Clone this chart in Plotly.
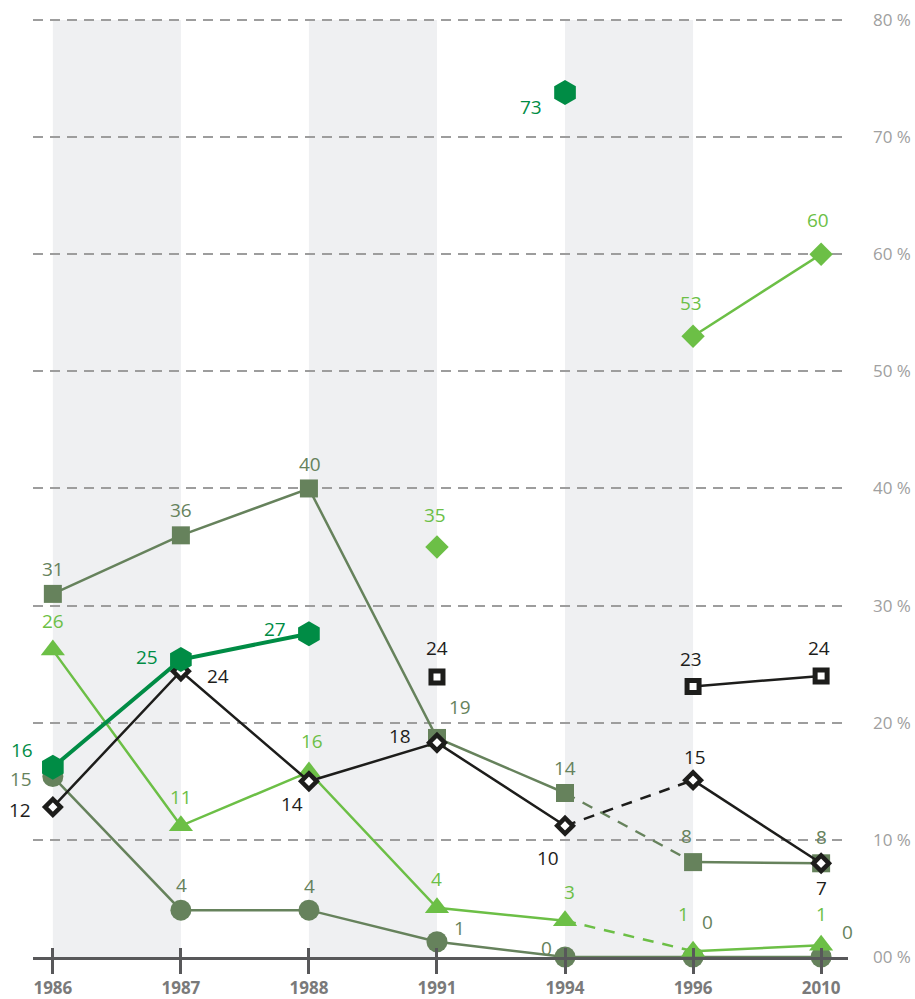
import plotly.graph_objects as go

# ---------------- data ----------------
years = ['1986', '1987', '1988', '1991', '1994', '1996', '2010']

sq_vals = [31, 36, 40, 18.7, 14, 8.1, 8]
sq_text = ['31', '36', '40', '19', '14', '8', '8']

tri_vals = [26.2, 11.2, 15.8, 4.2, 3.1, 0.5, 1.0]
tri_text = ['26', '11', '16', '4', '3', '1', '1']

circ_vals = [15.4, 4, 4, 1.3, 0, 0, 0]
circ_text = ['15', '4', '4', '1', '0', '0', '0']

hex_years = ['1986', '1987', '1988', '1994']
hex_vals = [16.2, 25.4, 27.6, 73.8]
hex_text = ['16', '25', '27', '73']

bd_vals = [12.8, 24.4, 15.0, 18.3, 11.2, 15.1, 8.0]
bd_text = ['12', '24', '14', '18', '10', '15', '7']

bs_years = ['1991', '1996', '2010']
bs_vals = [23.9, 23.1, 24.0]
bs_text = ['24', '23', '24']

ld_years = ['1991', '1996', '2010']
ld_vals = [35, 53, 60]
ld_text = ['35', '53', '60']

y_ticks = [0, 10, 20, 30, 40, 50, 60, 70, 80]
y_ticktext = ['00 %', '10 %', '20 %', '30 %', '40 %', '50 %', '60 %', '70 %', '80 %']

# ---------------- styles ----------------
C_GRAY = '#66825c'
C_LIGHT = '#6cbf46'
C_DARK = '#008c45'
C_BLACK = '#1d1d1b'
FONT = 'Open Sans'


def pos(ys):
    return [years.index(y) for y in ys]


X_ALL = pos(years)

fig = go.Figure()

# background bands (pairs of categories)
for i in (0, 2, 4):
    fig.add_shape(type='rect', xref='x', yref='y', x0=X_ALL[i], x1=X_ALL[i + 1], y0=0, y1=80,
                  fillcolor='#eff0f2', line_width=0, layer='below')


def segs(xs, ys, pieces, color, width):
    for a, b, dash in pieces:
        fig.add_trace(go.Scatter(x=xs[a:b + 1], y=ys[a:b + 1], mode='lines',
                                 line=dict(color=color, width=width, dash=dash),
                                 hoverinfo='skip', cliponaxis=False, showlegend=False))


def marks(xs, ys, symbol, size, color, line_color=None, line_width=0):
    fig.add_trace(go.Scatter(x=xs, y=ys, mode='markers',
                             marker=dict(symbol=symbol, size=size, color=color,
                                         line=dict(color=line_color or color, width=line_width)),
                             hoverinfo='skip', cliponaxis=False, showlegend=False))


def labels(xs, ys, texts, offsets, color):
    for x, y, t, (dx, dy) in zip(xs, ys, texts, offsets):
        fig.add_annotation(x=x, y=y, xref='x', yref='y', text=t, showarrow=False,
                           xshift=dx, yshift=-dy, borderpad=0,
                           font=dict(family=FONT, size=19, color=color, weight=500))


DASH = '11px,9px'

# circles
segs(X_ALL, circ_vals, [(0, 6, 'solid')], C_GRAY, 2.5)
marks(X_ALL, circ_vals, 'circle', 21, C_GRAY)
labels(X_ALL, circ_vals, circ_text,
       [(-32, 2), (1, -25), (1, -24), (23, -14), (-19, -9), (14, -35), (26, -25)], C_GRAY)

# squares
segs(X_ALL, sq_vals, [(0, 4, 'solid'), (4, 5, DASH), (5, 6, 'solid')], C_GRAY, 2.5)
marks(X_ALL, sq_vals, 'square', 18, C_GRAY)
labels(X_ALL, sq_vals, sq_text,
       [(0, -25), (0, -25), (1, -24), (23, -31), (0, -25), (-7, -26), (0, -26)], C_GRAY)

# light green triangles
segs(X_ALL, tri_vals, [(0, 4, 'solid'), (4, 5, DASH), (5, 6, 'solid')], C_LIGHT, 2.5)
marks(X_ALL, tri_vals, 'triangle-up', 21, C_LIGHT)
labels(X_ALL, tri_vals, tri_text,
       [(0, -29), (0, -29), (3, -31), (0, -29), (4, -29), (-10, -37), (0, -31)], C_LIGHT)

# light green diamonds
ld_x = pos(ld_years)
segs(ld_x, ld_vals, [(1, 2, 'solid')], C_LIGHT, 2.5)
marks(ld_x, ld_vals, 'diamond', 18, C_LIGHT)
labels(ld_x, ld_vals, ld_text, [(-2, -32), (-2, -33), (-3, -34)], C_LIGHT)

# black open squares
bs_x = pos(bs_years)
segs(bs_x, bs_vals, [(1, 2, 'solid')], C_BLACK, 2.5)
marks(bs_x, bs_vals, 'square', 12, 'white', C_BLACK, 5)
labels(bs_x, bs_vals, bs_text, [(0, -29), (-2, -27), (-2, -28)], C_BLACK)

# black open diamonds
segs(X_ALL, bd_vals, [(0, 4, 'solid'), (4, 5, DASH), (5, 6, 'solid')], C_BLACK, 2.5)
marks(X_ALL, bd_vals, 'diamond', 12, 'white', C_BLACK, 4.5)
labels(X_ALL, bd_vals, bd_text,
       [(-33, 3), (37, 5), (-17, 23), (-37, -7), (-17, 32), (2, -23), (0, 25)], C_BLACK)

# dark green hexagons
hex_x = pos(hex_years)
segs(hex_x, hex_vals, [(0, 2, 'solid')], C_DARK, 4)
marks(hex_x, hex_vals, 'hexagon', 25, C_DARK)
labels(hex_x, hex_vals, hex_text, [(-31, -17), (-34, -2), (-34, -5), (-34, 14)], C_DARK)

# invisible helper trace on the overlay axis (upper half of crossing ticks)
fig.add_trace(go.Scatter(x=X_ALL, y=[-10] * len(X_ALL), xaxis='x2', yaxis='y',
                         mode='markers', marker=dict(opacity=0), hoverinfo='skip',
                         showlegend=False))

xrange = [-0.155, 6.21]
fig.update_layout(
    width=915, height=999,
    margin=dict(l=33, r=67, t=8, b=42),
    plot_bgcolor='white', paper_bgcolor='white',
    showlegend=False,
    xaxis=dict(range=xrange, tickvals=X_ALL, ticktext=years, automargin=False,
               showgrid=False, zeroline=False,
               showline=True, linecolor='#58585a', linewidth=2.5,
               ticks='outside', ticklen=14, tickwidth=2.5, tickcolor='#58585a',
               tickfont=dict(family=FONT, size=17, color='#7a7a7a', weight='bold'),
               ticklabelstandoff=0, fixedrange=True),
    xaxis2=dict(range=xrange, tickvals=X_ALL, overlaying='x', anchor='y', side='bottom',
                automargin=False, showgrid=False, zeroline=False, showline=False,
                ticks='inside', ticklen=9, tickwidth=2.5, tickcolor='#58585a',
                showticklabels=False, fixedrange=True),
    yaxis=dict(range=[0, 81.02], side='right', tickvals=y_ticks, ticktext=y_ticktext,
               automargin=False,
               showgrid=True, gridcolor='#9d9d9d', gridwidth=2, griddash='10px,7px',
               zeroline=False, showline=False, ticks='',
               tickfont=dict(family=FONT, size=17, color='#a0a0a0'),
               ticklabelstandoff=24, fixedrange=True),
)

fig.write_html('out.html', config={'displayModeBar': False},
               post_script="document.body.style.margin='0';")
